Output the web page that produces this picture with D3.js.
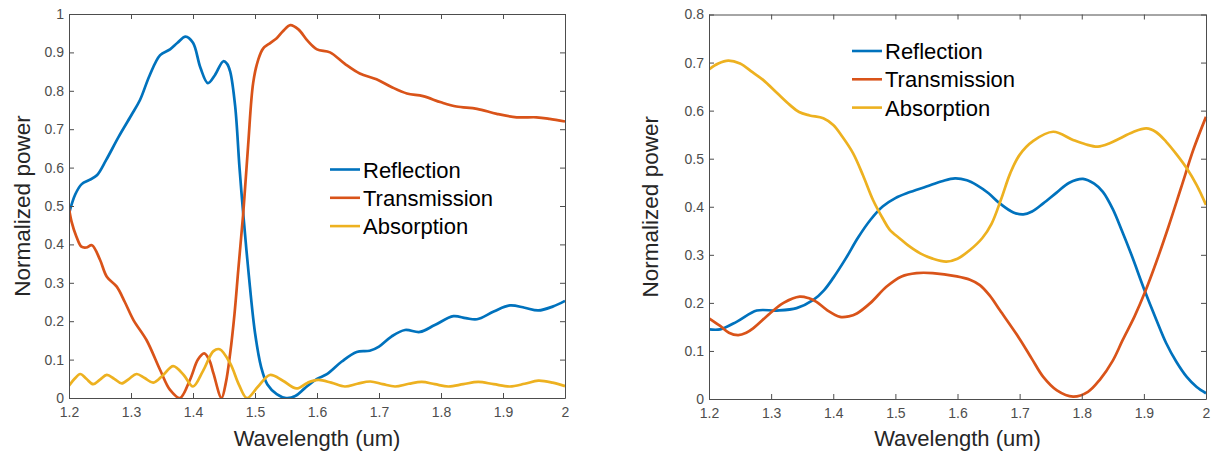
<!DOCTYPE html>
<html>
<head>
<meta charset="utf-8">
<script src="https://cdn.jsdelivr.net/npm/d3@7"></script>
<style>
  body { margin: 0; background: #fff; }
  svg { display: block; font-family: "Liberation Sans", Arial, sans-serif; }
</style>
</head>
<body>
<div id="chart"></div>
<script>
// wavelength ticks shared by both panels
var xTicks = [1.2, 1.3, 1.4, 1.5, 1.6, 1.7, 1.8, 1.9, 2.0];
var leftYTicks = [0, 0.1, 0.2, 0.3, 0.4, 0.5, 0.6, 0.7, 0.8, 0.9, 1];
var rightYTicks = [0, 0.1, 0.2, 0.3, 0.4, 0.5, 0.6, 0.7, 0.8];
var seriesNames = ['Reflection', 'Transmission', 'Absorption'];

// left panel, [wavelength, power]
var leftReflection = [[1.2,0.48],[1.21,0.53],[1.2205,0.557],[1.233,0.568],[1.245,0.58],[1.26,0.62],[1.28,0.68],[1.30,0.735],
  [1.3145,0.776],[1.33,0.84],[1.347,0.893],[1.363,0.908],[1.375,0.925],[1.388,0.941],[1.40,0.925],[1.412,0.86],[1.424,0.82],
  [1.435,0.84],[1.449,0.877],[1.455,0.87],[1.46,0.85],[1.468,0.76],[1.475,0.6],[1.481,0.48],[1.49,0.32],[1.50,0.17],
  [1.51,0.08],[1.52,0.035],[1.535,0.01],[1.55,0.0],[1.565,0.005],[1.58,0.025],[1.6,0.05],[1.616,0.062],[1.64,0.095],
  [1.664,0.12],[1.685,0.123],[1.70,0.134],[1.72,0.16],[1.742,0.177],[1.766,0.172],[1.79,0.19],[1.82,0.213],[1.84,0.208],
  [1.858,0.205],[1.885,0.225],[1.911,0.241],[1.935,0.235],[1.957,0.228],[1.98,0.238],[2.0,0.253]];
var leftTransmission = [[1.2,0.494],[1.204,0.46],[1.212,0.42],[1.22,0.394],[1.228,0.392],[1.237,0.398],[1.25,0.36],
  [1.261,0.316],[1.277,0.29],[1.29,0.25],[1.304,0.203],[1.325,0.151],[1.347,0.073],[1.363,0.021],[1.379,0.0],[1.395,0.047],
  [1.408,0.1],[1.418,0.116],[1.426,0.1],[1.433,0.064],[1.446,0.0],[1.453,0.04],[1.46,0.117],[1.467,0.22],[1.473,0.333],
  [1.481,0.48],[1.489,0.66],[1.497,0.82],[1.505,0.88],[1.513,0.91],[1.525,0.925],[1.535,0.937],[1.545,0.955],[1.557,0.971],
  [1.57,0.96],[1.585,0.93],[1.6,0.908],[1.621,0.9],[1.645,0.87],[1.669,0.845],[1.696,0.83],[1.72,0.81],[1.745,0.793],
  [1.771,0.786],[1.8,0.77],[1.825,0.759],[1.858,0.753],[1.89,0.74],[1.922,0.731],[1.954,0.731],[1.975,0.727],[2.0,0.72]];
var leftAbsorption = [[1.2,0.032],[1.209,0.05],[1.218,0.0625],[1.228,0.05],[1.239,0.036],[1.25,0.048],[1.261,0.06],
  [1.273,0.05],[1.285,0.038],[1.297,0.05],[1.309,0.0625],[1.322,0.052],[1.336,0.04],[1.352,0.06],[1.368,0.083],[1.385,0.06],
  [1.4,0.03],[1.416,0.07],[1.433,0.122],[1.443,0.127],[1.46,0.09],[1.474,0.035],[1.487,0.0],[1.505,0.03],[1.524,0.06],
  [1.545,0.045],[1.567,0.025],[1.585,0.04],[1.602,0.047],[1.623,0.04],[1.645,0.03],[1.665,0.037],[1.686,0.043],[1.706,0.036],
  [1.726,0.03],[1.748,0.037],[1.769,0.042],[1.79,0.036],[1.812,0.03],[1.836,0.036],[1.86,0.042],[1.885,0.036],[1.911,0.03],
  [1.935,0.037],[1.957,0.045],[1.98,0.04],[2.0,0.031]];

// right panel, [wavelength, power]
var rightReflection = [[1.2,0.145],[1.218,0.145],[1.245,0.161],[1.277,0.184],[1.309,0.184],[1.341,0.189],[1.368,0.206],
  [1.385,0.226],[1.4,0.252],[1.42,0.292],[1.44,0.336],[1.46,0.373],[1.48,0.401],[1.50,0.418],[1.52,0.429],[1.55,0.442],
  [1.575,0.453],[1.596,0.459],[1.615,0.455],[1.631,0.445],[1.65,0.428],[1.668,0.407],[1.69,0.388],[1.706,0.384],[1.72,0.39],
  [1.738,0.407],[1.76,0.43],[1.78,0.45],[1.802,0.458],[1.82,0.448],[1.834,0.431],[1.85,0.395],[1.864,0.352],[1.88,0.3],
  [1.902,0.223],[1.92,0.165],[1.936,0.116],[1.952,0.078],[1.969,0.046],[1.985,0.025],[2.0,0.012]];
var rightTransmission = [[1.2,0.168],[1.218,0.152],[1.232,0.138],[1.247,0.133],[1.26,0.138],[1.271,0.147],[1.298,0.178],
  [1.32,0.2],[1.346,0.213],[1.36,0.21],[1.373,0.202],[1.39,0.185],[1.411,0.171],[1.425,0.172],[1.438,0.178],[1.46,0.2],
  [1.486,0.234],[1.51,0.255],[1.534,0.262],[1.56,0.262],[1.599,0.255],[1.62,0.248],[1.636,0.237],[1.652,0.215],[1.668,0.185],
  [1.7,0.125],[1.72,0.083],[1.738,0.046],[1.76,0.018],[1.786,0.005],[1.81,0.015],[1.829,0.04],[1.85,0.08],[1.866,0.123],
  [1.885,0.172],[1.902,0.223],[1.92,0.285],[1.94,0.36],[1.96,0.44],[1.98,0.52],[2.0,0.587]];
var rightAbsorption = [[1.2,0.686],[1.215,0.698],[1.231,0.704],[1.25,0.698],[1.27,0.68],[1.287,0.664],[1.31,0.636],
  [1.33,0.612],[1.345,0.597],[1.362,0.59],[1.384,0.584],[1.4,0.57],[1.415,0.545],[1.432,0.511],[1.448,0.465],[1.464,0.414],[1.48,0.375],
  [1.491,0.352],[1.507,0.334],[1.52,0.32],[1.54,0.303],[1.56,0.292],[1.582,0.286],[1.6,0.292],[1.62,0.31],[1.64,0.335],
  [1.655,0.365],[1.67,0.415],[1.685,0.47],[1.70,0.508],[1.722,0.537],[1.754,0.556],[1.786,0.539],[1.806,0.53],[1.826,0.525],
  [1.845,0.532],[1.861,0.542],[1.882,0.555],[1.904,0.563],[1.92,0.555],[1.936,0.535],[1.952,0.51],[1.969,0.48],
  [1.985,0.445],[2.0,0.404]];

var width = 1214;
var height = 454;
var colors = ['#0072BD', '#D95319', '#EDB120'];
var axisColor = '#4d4d4d';

var svg = d3.select('#chart').append('svg')
      .attr('width', width)
      .attr('height', height);

var fmt = d => String(+d.toFixed(1));

function drawPanel (opts) {
  var xScale = d3.scaleLinear().domain([1.2, 2]).range([opts.left, opts.right]);
  var yScale = d3.scaleLinear().domain([0, opts.yMax]).range([opts.bottom, opts.top]);
  var id = 'clip' + opts.left;

  svg.append('clipPath').attr('id', id)
    .append('rect')
      .attr('x', opts.left).attr('y', opts.top - 2)
      .attr('width', opts.right - opts.left + 2)
      .attr('height', opts.bottom - opts.top + 2);

  var line = d3.line()
        .x(d => xScale(d[0]))
        .y(d => yScale(d[1]))
        .curve(d3.curveCatmullRom.alpha(0.5));

  // curves
  var g = svg.append('g').attr('clip-path', 'url(#' + id + ')');
  opts.series.forEach(function (s, i) {
    g.append('path')
      .attr('d', line(s))
      .attr('fill', 'none')
      .attr('stroke', colors[i])
      .attr('stroke-width', 2.7)
      .attr('stroke-linejoin', 'round');
  });

  // box axes, ticks pointing inward
  var bottom = svg.append('g')
        .attr('transform', 'translate(0,' + opts.bottom + ')')
        .call(d3.axisBottom(xScale).tickValues(xTicks).tickFormat(fmt)
              .tickSizeInner(-5).tickSizeOuter(0).tickPadding(9));
  var top = svg.append('g')
        .attr('transform', 'translate(0,' + opts.top + ')')
        .call(d3.axisTop(xScale).tickValues(xTicks).tickFormat('')
              .tickSizeInner(-5).tickSizeOuter(0));
  var leftAx = svg.append('g')
        .attr('transform', 'translate(' + opts.left + ',0)')
        .call(d3.axisLeft(yScale).tickValues(opts.yTicks).tickFormat(fmt)
              .tickSizeInner(-5).tickSizeOuter(0).tickPadding(5));
  var rightAx = svg.append('g')
        .attr('transform', 'translate(' + opts.right + ',0)')
        .call(d3.axisRight(yScale).tickValues(opts.yTicks).tickFormat('')
              .tickSizeInner(-5).tickSizeOuter(0));

  [bottom, top, leftAx, rightAx].forEach(function (a) {
    a.select('.domain').attr('stroke', axisColor);
    a.selectAll('.tick line').attr('stroke', axisColor);
    a.selectAll('.tick text')
      .attr('fill', axisColor)
      .style('font-size', '14px')
      .style('font-family', '"Liberation Sans", Arial, sans-serif');
  });

  // axis titles
  svg.append('text')
    .attr('x', (opts.left + opts.right) / 2)
    .attr('y', 446)
    .attr('text-anchor', 'middle')
    .attr('fill', '#262626')
    .style('font-size', '22px')
    .text('Wavelength (um)');

  svg.append('text')
    .attr('transform', 'translate(' + opts.yLabelX + ',' + (opts.top + opts.bottom) / 2 + ') rotate(-90)')
    .attr('text-anchor', 'middle')
    .attr('fill', '#262626')
    .style('font-size', '22.5px')
    .text('Normalized power');

  // legend
  seriesNames.forEach(function (name, i) {
    var ly = opts.legendY + i * 28.3;
    svg.append('line')
      .attr('x1', opts.legendX).attr('x2', opts.legendX + 30)
      .attr('y1', ly).attr('y2', ly)
      .attr('stroke', colors[i])
      .attr('stroke-width', 2.6);
    svg.append('text')
      .attr('x', opts.legendX + 33)
      .attr('y', ly + 8)
      .attr('fill', '#000')
      .style('font-size', '22px')
      .text(name);
  });
}

drawPanel({
  left: 69, right: 565, top: 14, bottom: 398,
  yMax: 1, yTicks: leftYTicks,
  series: [leftReflection, leftTransmission, leftAbsorption],
  yLabelX: 30, legendX: 330, legendY: 169.5
});

drawPanel({
  left: 709, right: 1206, top: 14.5, bottom: 399,
  yMax: 0.8, yTicks: rightYTicks,
  series: [rightReflection, rightTransmission, rightAbsorption],
  yLabelX: 658, legendX: 852, legendY: 51
});
</script>
</body>
</html>
